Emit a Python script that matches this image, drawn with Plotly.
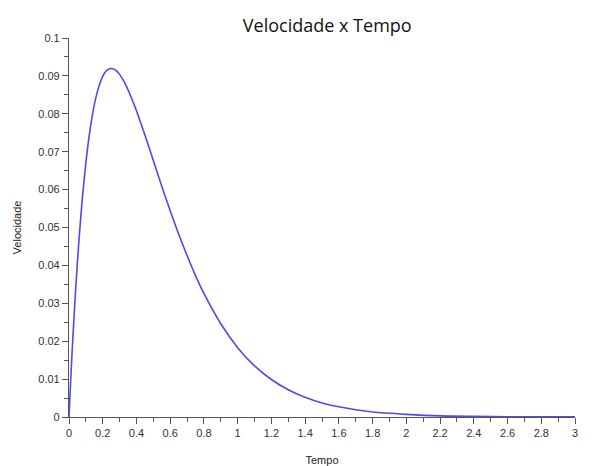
import plotly.graph_objects as go

tempo = [0, 0.01, 0.02, 0.04, 0.06, 0.08, 0.10, 0.12, 0.14, 0.16, 0.18, 0.20, 0.22, 0.24,
         0.26, 0.28, 0.30, 0.32, 0.34, 0.36, 0.38, 0.40, 0.45, 0.50, 0.55, 0.60, 0.65,
         0.70, 0.75, 0.80, 0.90, 1.0, 1.1, 1.2, 1.3, 1.4, 1.5, 1.6, 1.7, 1.8, 2.0, 2.2,
         2.4, 2.6, 2.8, 3.0]
velocidade = [0, 0.0096, 0.0185, 0.0341, 0.0472, 0.0581, 0.0670, 0.0743, 0.0800, 0.0844,
              0.0876, 0.0899, 0.0913, 0.0919, 0.0919, 0.0914, 0.0904, 0.0890, 0.0873,
              0.0853, 0.0831, 0.0808, 0.0744, 0.0677, 0.0609, 0.0544, 0.0483, 0.0426,
              0.0373, 0.0326, 0.0246, 0.0183, 0.0135, 0.0099, 0.0072, 0.0052, 0.0037,
              0.0027, 0.0019, 0.0013, 0.0007, 0.0003, 0.00016, 0.00008, 0.00004, 0.00002]

x_ticks = [round(i * 0.2, 1) for i in range(16)]
x_labels = ["0", "0.2", "0.4", "0.6", "0.8", "1", "1.2", "1.4", "1.6", "1.8",
            "2", "2.2", "2.4", "2.6", "2.8", "3"]
y_ticks = [round(i * 0.01, 2) for i in range(11)]
y_labels = ["0", "0.01", "0.02", "0.03", "0.04", "0.05", "0.06", "0.07", "0.08", "0.09", "0.1"]

fig = go.Figure()
fig.add_trace(go.Scatter(x=tempo, y=velocidade, mode="lines",
                         line=dict(color="#4b4bf0", width=1.6, shape="spline", smoothing=0.8),
                         showlegend=False, hoverinfo="x+y"))

axis_common = dict(showgrid=False, zeroline=False, showline=True, linecolor="#555555",
                   linewidth=1.2, ticks="outside", ticklen=6, tickwidth=1.2,
                   tickcolor="#555555", automargin=False,
                   tickfont=dict(family="Liberation Sans, Arial, sans-serif", size=11, color="#333333"))

fig.update_layout(
    width=589, height=458,
    margin=dict(l=61, r=22, t=30, b=49),
    paper_bgcolor="white", plot_bgcolor="white",
    title=dict(text="Velocidade x Tempo", x=0.542, xanchor="center", y=0.961, yanchor="middle",
               font=dict(family="Open Sans, Noto Sans, sans-serif", size=18, color="#111111")),
    xaxis=dict(range=[0, 3], tickvals=x_ticks, ticktext=x_labels,
               title=dict(text="Tempo", standoff=18,
                          font=dict(family="Liberation Sans, Arial, sans-serif", size=11, color="#222222")),
               minor=dict(ticks="outside", dtick=0.1, tick0=0, ticklen=4, tickcolor="#555555", tickwidth=1),
               **axis_common),
    yaxis=dict(range=[0, 0.1], tickvals=y_ticks, ticktext=y_labels,
               title=dict(text="Velocidade", standoff=14,
                          font=dict(family="Liberation Sans, Arial, sans-serif", size=11, color="#222222")),
               minor=dict(ticks="outside", dtick=0.005, tick0=0, ticklen=4, tickcolor="#555555", tickwidth=1),
               **axis_common),
)

fig.write_html("out.html")
